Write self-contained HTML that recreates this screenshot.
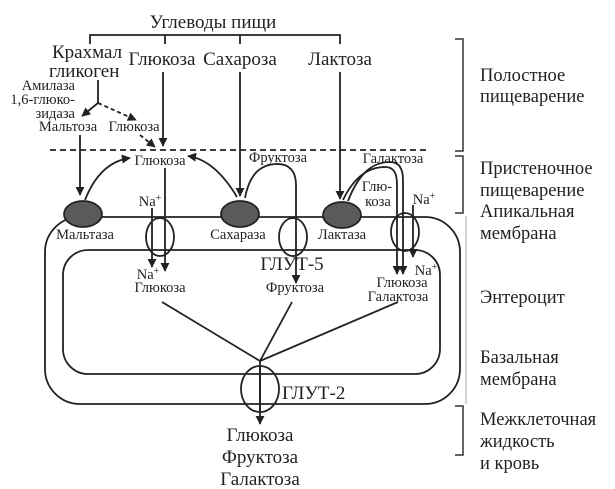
<!DOCTYPE html>
<html><head><meta charset="utf-8"><style>
html,body{margin:0;padding:0;background:#fff}
svg{display:block}
text{font-family:"Liberation Serif",serif;fill:#222}
</style></head><body>
<svg width="615" height="489" viewBox="0 0 615 489" xmlns="http://www.w3.org/2000/svg">
<defs>
<marker id="a" viewBox="0 0 10 10" refX="9" refY="5" markerWidth="9" markerHeight="9" markerUnits="userSpaceOnUse" orient="auto"><path d="M0,0 L10,5 L0,10 z" fill="#222"/></marker>
</defs>
<g stroke="#222" stroke-width="1.8" fill="none">
<path d="M90,44 V35 H340 V44 M165,35 V44 M240,35 V44"/>
<path d="M98,80 V103"/>
<path d="M98,103 L82,116" marker-end="url(#a)"/>
<path d="M98,103 L136,120" stroke-dasharray="4,3" marker-end="url(#a)"/>
<path d="M140,135 L155,147" stroke-dasharray="4,3" marker-end="url(#a)"/>
<path d="M163,72 V146" marker-end="url(#a)"/>
<path d="M240,72 V196" marker-end="url(#a)"/>
<path d="M340,72 V199" marker-end="url(#a)"/>
<path d="M80,135 V195" marker-end="url(#a)"/>
<path d="M50,150 H430" stroke-dasharray="6,4"/>
<path d="M85,200 Q100,162 130,158" marker-end="url(#a)"/>
<path d="M237,197 Q215,160 188,156" marker-end="url(#a)"/>
<path d="M245,198 C250,172 262,165 275,164 C290,163 296,172 296,185 V283" marker-end="url(#a)"/>
<path d="M343,200 C355,175 370,167 385,167 C395,167 397,175 397,185 V274" marker-end="url(#a)"/>
<path d="M348,201 C360,170 375,162 390,162 C400,162 403,170 403,180 V274" marker-end="url(#a)"/>
<path d="M165,168 V271" marker-end="url(#a)"/>
<path d="M152,208 V267" marker-end="url(#a)"/>
<path d="M413,205 V257" marker-end="url(#a)"/>
<rect x="45" y="217" width="415" height="187" rx="35"/>
<rect x="63" y="250" width="377" height="124" rx="25"/>
<path d="M162,302 L260,361 L292,302 M260,361 L398,302"/>
<path d="M260,361 V424" marker-end="url(#a)"/>
</g>
<g stroke="#222" stroke-width="1.8" fill="#5a5a5a">
<ellipse cx="83" cy="214" rx="19" ry="13"/>
<ellipse cx="240" cy="214" rx="19" ry="13"/>
<ellipse cx="342" cy="215" rx="19" ry="13"/>
</g>
<g stroke="#222" stroke-width="1.8" fill="none">
<ellipse cx="160" cy="237" rx="14" ry="19"/>
<ellipse cx="293" cy="237" rx="14" ry="19"/>
<ellipse cx="405" cy="232" rx="14" ry="19"/>
<ellipse cx="260" cy="389" rx="19" ry="23"/>
<path d="M260,366 V412"/>
</g>
<g stroke="#333" stroke-width="1.5" fill="none">
<path d="M455,39 H463 V151 H455"/>
<path d="M455,156 H463 V213 H455"/>
<path d="M455,406 H463 V455 H455"/>
</g>
<path d="M466,216 V404" stroke="#aaa" stroke-width="1"/>
<g font-size="19" text-anchor="middle">
<text x="213" y="28">Углеводы пищи</text>
</g>
<g font-size="19">
<text x="52" y="58">Крахмал</text>
<text x="49" y="77">гликоген</text>
<text x="162" y="65" text-anchor="middle">Глюкоза</text>
<text x="240" y="65" text-anchor="middle">Сахароза</text>
<text x="340" y="65" text-anchor="middle">Лактоза</text>
<text x="292" y="270" text-anchor="middle">ГЛУТ-5</text>
<text x="282" y="399">ГЛУТ-2</text>
<text x="260" y="441" text-anchor="middle">Глюкоза</text>
<text x="260" y="463" text-anchor="middle">Фруктоза</text>
<text x="260" y="485" text-anchor="middle">Галактоза</text>
</g>
<g font-size="14.5">
<text x="75" y="90" text-anchor="end">Амилаза</text>
<text x="75" y="104" text-anchor="end">1,6-глюко-</text>
<text x="75" y="118" text-anchor="end">зидаза</text>
<text x="68" y="131" text-anchor="middle">Мальтоза</text>
<text x="134" y="131" text-anchor="middle">Глюкоза</text>
<text x="160" y="165" text-anchor="middle">Глюкоза</text>
<text x="278" y="162" text-anchor="middle">Фруктоза</text>
<text x="393" y="163" text-anchor="middle">Галактоза</text>
<text x="377" y="191" text-anchor="middle">Глю-</text>
<text x="378" y="206" text-anchor="middle">коза</text>
<text x="150" y="206" text-anchor="middle">Na<tspan font-size="10" dy="-5">+</tspan></text>
<text x="424" y="204" text-anchor="middle">Na<tspan font-size="10" dy="-5">+</tspan></text>
<text x="85" y="239" text-anchor="middle">Мальтаза</text>
<text x="238" y="239" text-anchor="middle">Сахараза</text>
<text x="342" y="239" text-anchor="middle">Лактаза</text>
<text x="148" y="279" text-anchor="middle">Na<tspan font-size="10" dy="-5">+</tspan></text>
<text x="160" y="292" text-anchor="middle">Глюкоза</text>
<text x="295" y="292" text-anchor="middle">Фруктоза</text>
<text x="426" y="275" text-anchor="middle">Na<tspan font-size="10" dy="-5">+</tspan></text>
<text x="402" y="287" text-anchor="middle">Глюкоза</text>
<text x="398" y="301" text-anchor="middle">Галактоза</text>
</g>
<g font-size="18.5">
<text x="480" y="81">Полостное</text>
<text x="480" y="102">пищеварение</text>
<text x="480" y="174">Пристеночное</text>
<text x="480" y="196">пищеварение</text>
<text x="480" y="217">Апикальная</text>
<text x="480" y="239">мембрана</text>
<text x="480" y="303">Энтероцит</text>
<text x="480" y="363">Базальная</text>
<text x="480" y="385">мембрана</text>
<text x="480" y="425">Межклеточная</text>
<text x="480" y="447">жидкость</text>
<text x="480" y="469">и кровь</text>
</g>
</svg>
</body></html>
